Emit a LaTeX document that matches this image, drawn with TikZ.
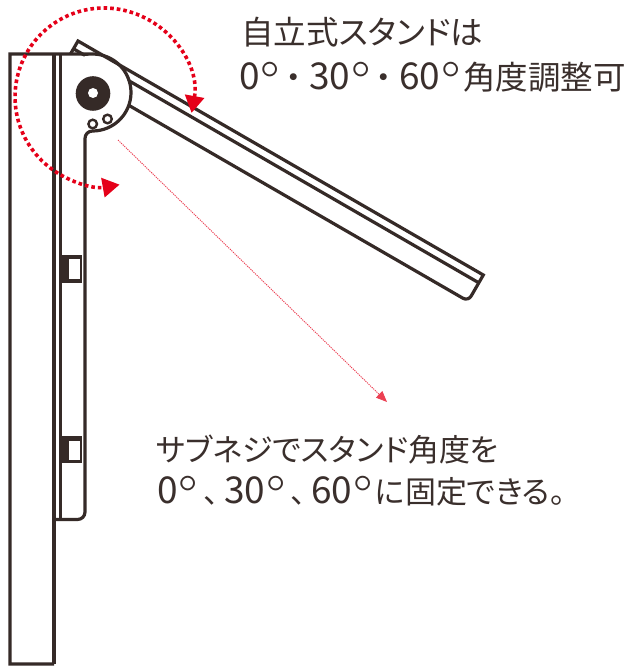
\documentclass[tikz,border=0pt]{standalone}
\usepackage{fontspec}
\newfontfamily\jp{Noto Sans CJK JP}
\newfontfamily\jpp{Noto Sans CJK JP}[RawFeature=+palt]
\usetikzlibrary{arrows.meta}
\definecolor{ink}{HTML}{352A27}
\definecolor{txt}{HTML}{3A2F2C}
\definecolor{accent}{HTML}{E50019}
\newcommand\numtxt[1]{{\fontsize{37}{37}\selectfont#1}}
\newcommand\degsym{{\normalfont\fontsize{56}{56}\selectfont\kern1pt\raisebox{-11pt}[0pt][0pt]{°}\kern2.5pt}}
\tikzset{
  ln/.style={draw=ink, line width=3.2pt},
  lbl/.style={text=txt, inner sep=0pt, anchor=base west},
  bigtxt/.style={lbl, font=\fontsize{32.5}{36}\selectfont},
  smalltxt/.style={lbl, font=\fontsize{31}{36}\selectfont},
  redarc/.style={draw=accent, line width=3.6pt, dash pattern=on 3.6pt off 3pt},
}
\begin{document}
\begin{tikzpicture}[x=1pt,y=1pt]
\fill[white] (0,0) rectangle (630,-666);
\useasboundingbox (0,0) rectangle (630,-666);
% stand inner lip line (drawn first, hidden inside hinge)
\begin{scope}[shift={(78,-41)}, rotate=-30]
  \coordinate (l2a) at (0,-9);
  \coordinate (l2b) at (468,-9);
  \draw[ln] (l2a) -- (l2b);
\end{scope}
\fill[white] (92.5,-92.5) circle (37);
% tablet panel, hinge and back rail
\draw[ln] (54,-664) -- (10,-664) -- (10,-54) -- (92.5,-54)
  arc[start angle=90,end angle=-90,radius=38.5]
  arc[start angle=90,end angle=180,radius=7.5] -- (85,-512)
  arc[start angle=0,end angle=-90,radius=7.5] -- (54,-519.5);
\draw[ln] (54,-54) -- (54,-664);
\draw[ln] (60.5,-54) -- (60.5,-518);
% stand arm
\begin{scope}[shift={(78,-41)}, rotate=-30]
  \draw[ln] (0,-15) -- (0,0) -- (468,0) -- (468,-24.3)
    arc[start angle=0,end angle=-90,radius=6] -- (76.2,-30.3);
\end{scope}
% bolt and holes
\fill[ink] (93,-93.5) circle (17.3);
\fill[white] (93,-93) circle (5);
\draw[ink, line width=2.4pt] (92.7,-124) circle (4.3);
\draw[ink, line width=2.4pt] (107.5,-119) circle (4.3);
% clips
\fill[ink] (61,-255) rectangle (82,-283);
\fill[white] (69,-259) rectangle (79.5,-278.5);
\fill[ink] (61,-436) rectangle (82,-463);
\fill[white] (68.5,-441) rectangle (79.5,-460);
% red rotation arc
\coordinate (ra) at (191.57,-112.91);
\draw[redarc, {Triangle[length=17pt,width=19pt]}-{Triangle[length=17pt,width=19pt]}]
  (ra) arc[start angle=-10.3, end angle=280.1, radius=89];
% thin pointer
\coordinate (p0) at (118,-140);
\coordinate (p1) at (387,-402);
\draw[accent!75, line width=0.9pt, dash pattern=on 1.2pt off 1pt, -{Triangle[length=11pt,width=9pt]}] (p0) -- (p1);
% texts
\node[bigtxt] (t1) at (241,-45) {\jpp 自立式スタンドは};
\node[bigtxt] (t2) at (239,-90) {\jp\numtxt{0}\degsym\kern-5pt ・\kern-1pt\numtxt{30}\degsym\kern-5pt ・\kern-1pt\numtxt{60}\degsym 角度調整可};
\node[smalltxt] (t4) at (157,-503) {\jpp\numtxt{0}\degsym\kern3pt 、\kern5pt\numtxt{30}\degsym\kern3pt 、\kern5pt\numtxt{60}\degsym に固定できる。};
\node[smalltxt] (t3) at (156,-461) {\jpp サブネジでスタンド角度を};
\end{tikzpicture}
\end{document}
